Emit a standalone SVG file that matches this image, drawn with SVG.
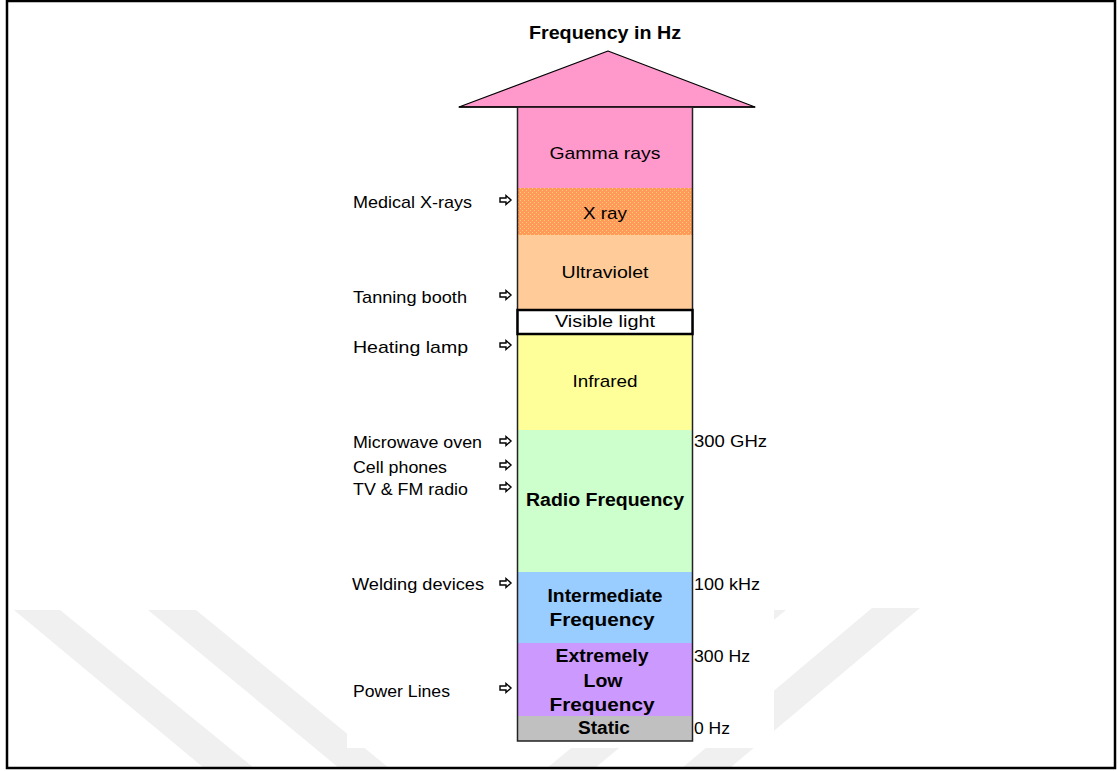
<svg xmlns="http://www.w3.org/2000/svg" width="1118" height="771" viewBox="0 0 1118 771">
<style>
text{font-family:"Liberation Sans",Arial,sans-serif;fill:#000}
.r{font-size:17px}
.b{font-size:18px;font-weight:bold}
.c{text-anchor:middle}
.wm{fill:#f0f0f0}
.band{stroke:none}
.side{stroke:#222;stroke-width:1.5;fill:none}
.ar{fill:#fff;stroke:#000;stroke-width:1.4;stroke-linejoin:miter}
</style>
<defs>
<pattern id="dots" width="4" height="4" patternUnits="userSpaceOnUse">
<rect width="4" height="4" fill="#ff9a5c"/>
<rect x="0" y="0" width="1" height="1" fill="#ffd066"/>
<rect x="2" y="2" width="1" height="1" fill="#ffd066"/>
</pattern>
<polygon id="sa" points="0,-2 6,-2 6,-4.5 11,0 6,4.5 6,2 0,2"/>
</defs>
<rect width="1118" height="771" fill="#fff"/>
<g id="watermark">
<polygon class="wm" points="14,610 60,610 254,768 204,768"/>
<polygon class="wm" points="148,610 196,610 389,768 339,768"/>
<polygon class="wm" points="738,610 786,610 595,768 547,768"/>
<polygon class="wm" points="872,608 920,608 730,768 682,768"/>
<rect x="347" y="560" width="427" height="188" fill="#fff"/>
</g>
<rect x="7" y="1" width="1108" height="767" fill="none" stroke="#000" stroke-width="2.5"/>
<text class="c" x="605" y="39" style="font-size:19px;font-weight:bold" textLength="152" lengthAdjust="spacingAndGlyphs">Frequency in Hz</text>
<g id="arrowhead">
<polygon points="459,107 608,51 755,107" fill="#ff99cc" stroke="#000" stroke-width="1.2" stroke-linejoin="round"/>
</g>
<g id="gamma"><rect class="band" x="517.5" y="107" width="175" height="81" fill="#ff99cc"/><text class="r c" x="605" y="159" textLength="111" lengthAdjust="spacingAndGlyphs">Gamma rays</text></g>
<g id="xray"><rect class="band" x="517.5" y="188" width="175" height="47" fill="url(#dots)"/><text class="r c" x="605" y="219" textLength="44" lengthAdjust="spacingAndGlyphs">X ray</text></g>
<g id="uv"><rect class="band" x="517.5" y="235" width="175" height="75" fill="#ffcc99"/><text class="r c" x="605" y="278" textLength="87" lengthAdjust="spacingAndGlyphs">Ultraviolet</text></g>
<g id="infrared"><rect class="band" x="517.5" y="334" width="175" height="96" fill="#ffff99"/><text class="r c" x="605" y="387" textLength="65" lengthAdjust="spacingAndGlyphs">Infrared</text></g>
<g id="radio"><rect class="band" x="517.5" y="430" width="175" height="142" fill="#ccffcc"/><text class="b c" x="605" y="506" textLength="158" lengthAdjust="spacingAndGlyphs">Radio Frequency</text></g>
<g id="intermediate"><rect class="band" x="517.5" y="572" width="175" height="71" fill="#99ccff"/><text class="b c" x="605" y="602" textLength="115" lengthAdjust="spacingAndGlyphs">Intermediate</text><text class="b c" x="602" y="626" textLength="105" lengthAdjust="spacingAndGlyphs">Frequency</text></g>
<g id="elf"><rect class="band" x="517.5" y="643" width="175" height="73" fill="#cc99ff"/><text class="b c" x="602" y="662" textLength="93" lengthAdjust="spacingAndGlyphs">Extremely</text><text class="b c" x="603" y="687" textLength="39" lengthAdjust="spacingAndGlyphs">Low</text><text class="b c" x="602" y="711" textLength="105" lengthAdjust="spacingAndGlyphs">Frequency</text></g>
<g id="static"><rect class="band" x="517.5" y="716" width="175" height="25" fill="#c0c0c0"/><text class="b c" x="604" y="734" textLength="52" lengthAdjust="spacingAndGlyphs">Static</text></g>
<g id="column-outline">
<line x1="459" y1="107" x2="755" y2="107" stroke="#000" stroke-width="1.5"/>
<polyline class="side" points="517.5,107 517.5,741 692.5,741 692.5,107"/>
</g>
<g id="visible"><rect x="517.5" y="310" width="175" height="24" fill="#fff" stroke="#000" stroke-width="2.5"/><text class="r c" x="605" y="327" textLength="100" lengthAdjust="spacingAndGlyphs">Visible light</text></g>
<g id="freq-labels">
<text class="r" x="694" y="447" textLength="73" lengthAdjust="spacingAndGlyphs">300 GHz</text>
<text class="r" x="694" y="590" textLength="66" lengthAdjust="spacingAndGlyphs">100 kHz</text>
<text class="r" x="694" y="662" textLength="56" lengthAdjust="spacingAndGlyphs">300 Hz</text>
<text class="r" x="694" y="734" textLength="36" lengthAdjust="spacingAndGlyphs">0 Hz</text>
</g>
<g id="sources">
<text class="r" x="353" y="208" textLength="119" lengthAdjust="spacingAndGlyphs">Medical X-rays</text>
<text class="r" x="353" y="303" textLength="114" lengthAdjust="spacingAndGlyphs">Tanning booth</text>
<text class="r" x="353" y="353" textLength="115" lengthAdjust="spacingAndGlyphs">Heating lamp</text>
<text class="r" x="353" y="448" textLength="129" lengthAdjust="spacingAndGlyphs">Microwave oven</text>
<text class="r" x="353" y="473" textLength="94" lengthAdjust="spacingAndGlyphs">Cell phones</text>
<text class="r" x="353" y="495" textLength="115" lengthAdjust="spacingAndGlyphs">TV &amp; FM radio</text>
<text class="r" x="352" y="590" textLength="132" lengthAdjust="spacingAndGlyphs">Welding devices</text>
<text class="r" x="353" y="697" textLength="97" lengthAdjust="spacingAndGlyphs">Power Lines</text>
</g>
<g id="connectors">
<use href="#sa" class="ar" x="500" y="200"/>
<use href="#sa" class="ar" x="500" y="295"/>
<use href="#sa" class="ar" x="500" y="345"/>
<use href="#sa" class="ar" x="500" y="441"/>
<use href="#sa" class="ar" x="500" y="465"/>
<use href="#sa" class="ar" x="500" y="487"/>
<use href="#sa" class="ar" x="500" y="583"/>
<use href="#sa" class="ar" x="500" y="688"/>
</g>
</svg>
